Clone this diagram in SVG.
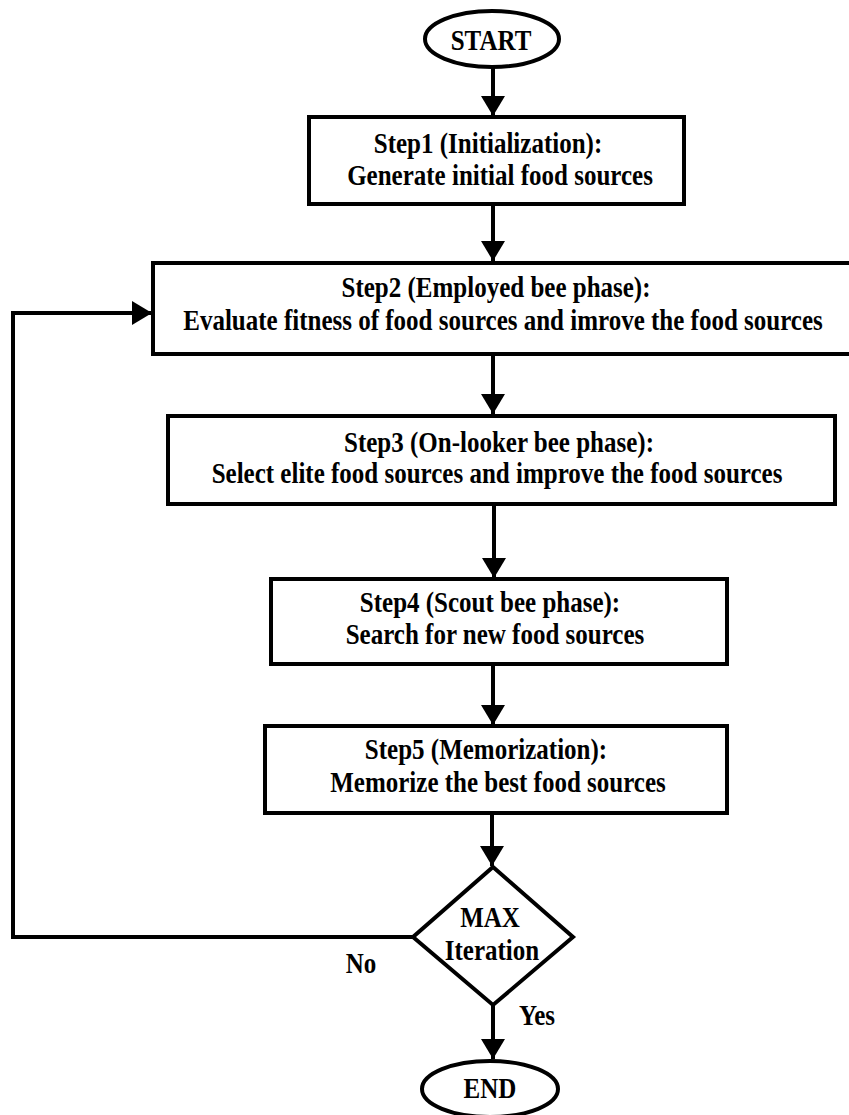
<svg xmlns="http://www.w3.org/2000/svg" width="849" height="1115" viewBox="0 0 849 1115">
<style>
.box{fill:#fff;stroke:#000;stroke-width:4}
.ln{fill:none;stroke:#000;stroke-width:4}
text{font-family:"Liberation Serif","Times New Roman",serif;font-weight:bold;font-size:25px;fill:#000;text-anchor:middle}
</style>
<defs>
<marker id="ah" markerUnits="userSpaceOnUse" markerWidth="22" markerHeight="26" refX="20" refY="13" orient="auto">
<path d="M0,1 L20,13 L0,25 z" fill="#000"/>
</marker>
</defs>
<rect width="849" height="1115" fill="#fff"/>
<g id="connectors">
<line class="ln" x1="493" y1="67" x2="493" y2="116" marker-end="url(#ah)"/>
<line class="ln" x1="493" y1="204" x2="493" y2="261" marker-end="url(#ah)"/>
<line class="ln" x1="493" y1="354" x2="493" y2="414" marker-end="url(#ah)"/>
<line class="ln" x1="494" y1="504" x2="494" y2="578" marker-end="url(#ah)"/>
<line class="ln" x1="493" y1="664" x2="493" y2="725" marker-end="url(#ah)"/>
<line class="ln" x1="492" y1="813" x2="492" y2="866" marker-end="url(#ah)"/>
<line class="ln" x1="493" y1="1005" x2="493" y2="1059" marker-end="url(#ah)"/>
<path class="ln" d="M413,937 L13,937 L13,313 L152,313" marker-end="url(#ah)"/>
<text transform="translate(361,973) scale(1,1.15)">No</text>
<text transform="translate(537,1025) scale(1,1.15)">Yes</text>
</g>
<g id="start">
<ellipse class="box" cx="492" cy="39" rx="67" ry="28"/>
<text transform="translate(491,50) scale(1,1.15)">START</text>
</g>
<g id="step1">
<rect class="box" x="309" y="117" width="375" height="87"/>
<text transform="translate(488,153) scale(1,1.15)">Step1 (Initialization):</text>
<text transform="translate(500,185) scale(1,1.15)">Generate initial food sources</text>
</g>
<g id="step2">
<rect class="box" x="153" y="263" width="700" height="91"/>
<text transform="translate(496,297) scale(1,1.15)">Step2 (Employed bee phase):</text>
<text transform="translate(503,330) scale(1,1.15)">Evaluate fitness of food sources and imrove the food sources</text>
</g>
<g id="step3">
<rect class="box" x="168" y="416" width="667" height="88"/>
<text transform="translate(499,452) scale(1,1.15)">Step3 (On-looker bee phase):</text>
<text transform="translate(497,483) scale(1,1.15)">Select elite food sources and improve the food sources</text>
</g>
<g id="step4">
<rect class="box" x="271" y="579" width="456" height="85"/>
<text transform="translate(490,612) scale(1,1.15)">Step4 (Scout bee phase):</text>
<text transform="translate(495,644) scale(1,1.15)">Search for new food sources</text>
</g>
<g id="step5">
<rect class="box" x="265" y="726" width="462" height="87"/>
<text transform="translate(486,759) scale(1,1.15)">Step5 (Memorization):</text>
<text transform="translate(498,792) scale(1,1.15)">Memorize the best food sources</text>
</g>
<g id="decision">
<polygon class="box" points="493,867 573,937 493,1005 413,937"/>
<text transform="translate(490,927) scale(1,1.15)">MAX</text>
<text transform="translate(492,960) scale(1,1.15)">Iteration</text>
</g>
<g id="end">
<ellipse class="box" cx="490" cy="1089" rx="68" ry="28"/>
<text transform="translate(490,1098) scale(1,1.15)">END</text>
</g>
</svg>
